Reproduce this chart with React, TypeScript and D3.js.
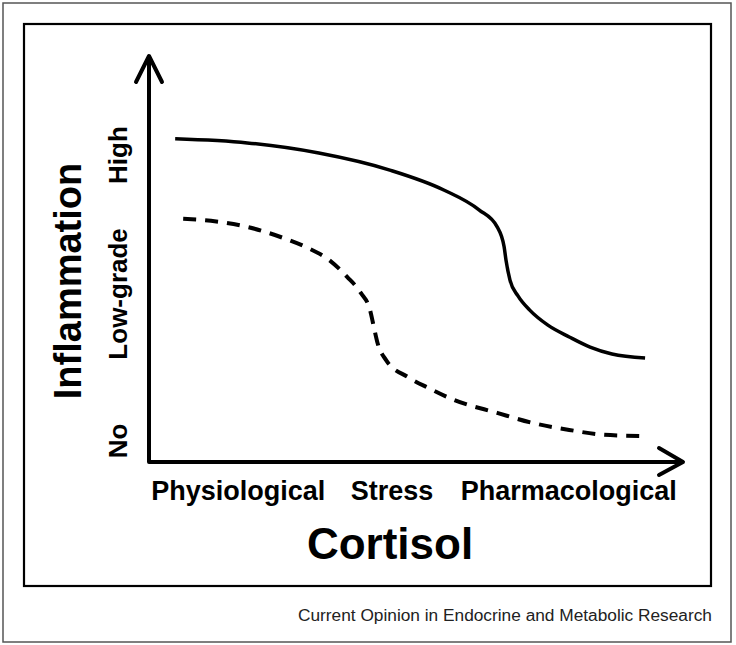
import React from "react";
import * as d3 from "d3";

// Categories on the x axis (position in arbitrary cortisol units 0-100)
const xCategories = ["Physiological", "Stress", "Pharmacological"];
const xCategoryPos = [16.7, 45.5, 78.6];

// Inflammation levels on the y axis (0-100 units)
const yLevels = ["No", "Low-grade", "High"];
const yLevelPos = [5.2, 41.4, 75.6];

// Solid curve
const solidX = [4.9, 18.4, 31.8, 45.1, 55.2, 61.8, 65.2, 66.5, 66.85, 67.6, 69.1, 71.3, 74.7, 78.7, 82.6, 86.7, 92.9];
const solidY = [79.6, 78.6, 76.1, 71.9, 67.0, 62.1, 57.9, 53.0, 49.75, 44.8, 40.9, 37.4, 33.7, 30.8, 28.3, 26.6, 25.6];

// Dashed curve
const dashedX = [6.4, 11.6, 18.4, 25.1, 29.8, 33.7, 37.1, 39.7, 41.4, 42.1, 42.8, 44.4, 48.5, 52.4, 57.1, 65.2, 71.9, 78.7, 85.2, 92.3];
const dashedY = [59.9, 59.4, 57.9, 55.2, 52.7, 49.8, 45.6, 41.6, 37.4, 33.3, 29.3, 25.1, 20.9, 18.2, 15.3, 12.1, 9.6, 7.9, 6.7, 6.4];

const W = 736;
const H = 645;
const FONT = "'Liberation Sans', Arial, sans-serif";

export default function App() {
  const x = d3.scaleLinear().domain([0, 100]).range([149, 683]);
  const y = d3.scaleLinear().domain([0, 100]).range([462, 56]);

  const line = d3
    .line<[number, number]>()
    .x((d) => x(d[0]))
    .y((d) => y(d[1]))
    .curve(d3.curveMonotoneX);

  const solid = solidX.map((v, i) => [v, solidY[i]] as [number, number]);
  const dashed = dashedX.map((v, i) => [v, dashedY[i]] as [number, number]);

  const x0 = x(0), y0 = y(0), xEnd = x(100), yEnd = y(100);

  return (
    <svg
      width={W}
      height={H}
      style={{ position: "absolute", left: 0, top: 0, background: "#fff" }}
      fontFamily={FONT}
    >
      <rect x={0} y={0} width={W} height={H} fill="#fff" />
      <rect x={3} y={3} width={728} height={639} fill="none" stroke="#555" strokeWidth={1.5} />
      <rect x={24} y={24} width={687} height={562} fill="none" stroke="#000" strokeWidth={2.2} />

      {/* axes */}
      <g stroke="#000" strokeWidth={4} fill="none" strokeLinecap="round" strokeLinejoin="round">
        <path d={`M${x0},${yEnd + 2}V${y0}H${xEnd - 2}`} strokeLinecap="butt" />
        <path d={`M${x0 - 13},${yEnd + 26}L${x0},${yEnd}L${x0 + 13},${yEnd + 26}`} />
        <path d={`M${xEnd - 24},${y0 - 14}L${xEnd},${y0}L${xEnd - 24},${y0 + 13}`} />
      </g>

      {/* curves */}
      <path d={line(solid) || ""} fill="none" stroke="#000" strokeWidth={3.5} />
      <path d={line(dashed) || ""} fill="none" stroke="#000" strokeWidth={4} strokeDasharray="13 9" />

      {/* x category labels */}
      {xCategories.map((c, i) => (
        <text key={c} x={x(xCategoryPos[i])} y={500} textAnchor="middle" fontSize={27} fontWeight="bold" fill="#000">
          {c}
        </text>
      ))}

      {/* y level labels */}
      {yLevels.map((c, i) => (
        <text
          key={c}
          transform={`translate(118,${y(yLevelPos[i])}) rotate(-90)`}
          textAnchor="middle"
          dominantBaseline="central"
          fontSize={26}
          fontWeight="bold"
          fill="#000"
        >
          {c}
        </text>
      ))}

      {/* axis titles */}
      <text transform="translate(68,281) rotate(-90)" textAnchor="middle" dominantBaseline="central" fontSize={38} fontWeight="bold" fill="#000">
        Inflammation
      </text>
      <text x={390} y={559} textAnchor="middle" fontSize={44} fontWeight="bold" fill="#000">
        Cortisol
      </text>

      <text x={712} y={621} textAnchor="end" fontSize={17.3} fill="#222">
        Current Opinion in Endocrine and Metabolic Research
      </text>
    </svg>
  );
}
